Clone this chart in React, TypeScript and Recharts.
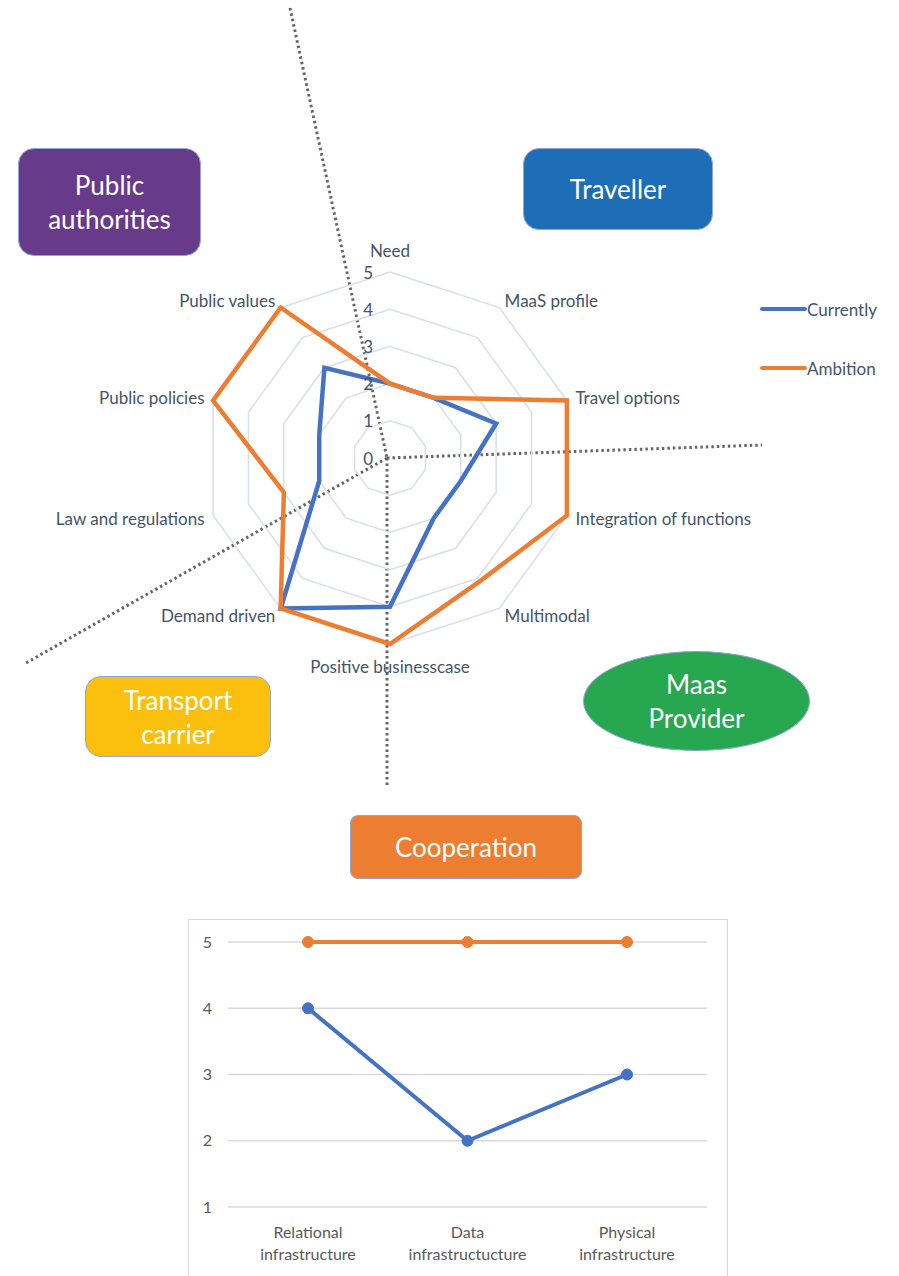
import {
  RadarChart, Radar, PolarGrid, PolarAngleAxis, PolarRadiusAxis,
  LineChart, Line, XAxis, YAxis, CartesianGrid,
} from 'recharts';

// radar: values, scale 0-5
const radarAxes = [
  'Need', 'MaaS profile', 'Travel options', 'Integration of functions', 'Multimodal',
  'Positive businesscase', 'Demand driven', 'Law and regulations', 'Public policies', 'Public values',
];
const radarCurrently = [2, 2, 3, 2, 2, 4, 5, 2, 2, 3];
const radarAmbition = [2, 2, 5, 5, 4.1, 5, 5, 3, 5, 5];
const radarTicks = [0, 1, 2, 3, 4, 5];

// cooperation line chart
const coopCategories = ['Relational infrastructure', 'Data infrastructucture', 'Physical infrastructure'];
const coopCurrently = [4, 2, 3];
const coopAmbition = [5, 5, 5];
const coopTicks = [1, 2, 3, 4, 5];

const BLUE = '#4472c4';
const ORANGE = '#ed7d31';
const LABEL = '#44546a';
const FONT = 'Lato, "Open Sans", sans-serif';

const CX = 390;
const CY = 458;
const R = 186;

const radarData = radarAxes.map((name, i) => ({
  name,
  currently: radarCurrently[i],
  ambition: radarAmbition[i],
}));

const coopData = coopCategories.map((name, i) => ({
  name,
  currently: coopCurrently[i],
  ambition: coopAmbition[i],
}));

function AngleTick(props: any) {
  const { x, y, payload } = props;
  const dx = x - CX;
  const dy = y - CY;
  const len = Math.sqrt(dx * dx + dy * dy) || 1;
  const ux = dx / len;
  const uy = dy / len;
  let r = 195;
  let anchor = 'middle';
  if (Math.abs(ux) < 0.1) {
    r = 208;
  } else {
    anchor = ux > 0 ? 'start' : 'end';
  }
  return (
    <text
      x={CX + ux * r}
      y={CY + uy * r}
      textAnchor={anchor}
      dominantBaseline="central"
      fill={LABEL}
      fontSize={17}
      fontFamily={FONT}
    >
      {payload.value}
    </text>
  );
}

function RadiusTick(props: any) {
  const { x, y, payload } = props;
  return (
    <text x={x - 17} y={y} textAnchor="end" dominantBaseline="central" fill={LABEL} fontSize={17} fontFamily={FONT}>
      {payload.value}
    </text>
  );
}

function CoopTick(props: any) {
  const { x, y, payload } = props;
  const words = String(payload.value).split(' ');
  return (
    <text x={x} y={y} textAnchor="middle" fill="#595959" fontSize={16} fontFamily={FONT}>
      <tspan x={x} dy={23}>{words[0]}</tspan>
      <tspan x={x} dy={22}>{words.slice(1).join(' ')}</tspan>
    </text>
  );
}

function Box({ left, top, width, height, color, lines, round = 16, ellipse = false }: any) {
  return (
    <div
      style={{
        position: 'absolute', left, top, width, height,
        background: color,
        borderRadius: ellipse ? '50%' : round,
        border: '1px solid #8fa6d6',
        boxSizing: 'border-box',
        display: 'flex', flexDirection: 'column', alignItems: 'center', justifyContent: 'center',
        color: '#fff', fontFamily: FONT, fontSize: 26, lineHeight: '34px',
      }}
    >
      {lines.map((l: string) => <div key={l}>{l}</div>)}
    </div>
  );
}

export default function App() {
  return (
    <div style={{ position: 'absolute', left: 0, top: 0, width: 899, height: 1276, background: '#fff', overflow: 'hidden' }}>
      {/* dotted quadrant lines */}
      <svg width={899} height={1276} style={{ position: 'absolute', left: 0, top: 0 }}>
        <g stroke="#666" strokeWidth={3} strokeDasharray="2.5 3" fill="none">
          <line x1={290} y1={8} x2={387} y2={458} />
          <line x1={387} y1={458} x2={762} y2={445} />
          <line x1={387} y1={458} x2={26} y2={663} />
          <line x1={387} y1={458} x2={387} y2={786} />
        </g>
      </svg>

      <div style={{ position: 'absolute', left: 0, top: 0 }}>
        <RadarChart width={899} height={800} data={radarData} cx={CX} cy={CY} outerRadius={R} startAngle={90} endAngle={-270}>
          <PolarGrid gridType="polygon" radialLines={false} stroke="#d9dee7" strokeWidth={1.5} />
          <PolarAngleAxis dataKey="name" tick={<AngleTick />} tickLine={false} axisLine={false} />
          <PolarRadiusAxis angle={90} domain={[0, 5]} ticks={radarTicks as any} tickCount={6} axisLine={false} tick={<RadiusTick />} />
          <Radar dataKey="currently" name="Currently" stroke={BLUE} strokeWidth={4.5} fill="none" fillOpacity={0} dot={false} isAnimationActive={false} />
          <Radar dataKey="ambition" name="Ambition" stroke={ORANGE} strokeWidth={4.5} fill="none" fillOpacity={0} dot={false} isAnimationActive={false} />
        </RadarChart>
      </div>

      {/* legend */}
      <svg width={140} height={90} style={{ position: 'absolute', left: 760, top: 290 }}>
        <line x1={2} y1={19} x2={45} y2={19} stroke={BLUE} strokeWidth={4} strokeLinecap="round" />
        <text x={47} y={19} dominantBaseline="central" fill={LABEL} fontSize={17} fontFamily={FONT}>Currently</text>
        <line x1={2} y1={78} x2={45} y2={78} stroke={ORANGE} strokeWidth={4} strokeLinecap="round" />
        <text x={47} y={78} dominantBaseline="central" fill={LABEL} fontSize={17} fontFamily={FONT}>Ambition</text>
      </svg>

      <Box left={18} top={148} width={183} height={108} color="#673a8a" lines={['Public', 'authorities']} />
      <Box left={523} top={148} width={190} height={82} color="#1d6db7" lines={['Traveller']} />
      <Box left={85} top={676} width={186} height={81} color="#fbbf0d" lines={['Transport', 'carrier']} />
      <Box left={583} top={651} width={227} height={100} color="#27a74f" lines={['Maas', 'Provider']} ellipse />
      <Box left={350} top={815} width={232} height={64} color={ORANGE} lines={['Cooperation']} round={8} />

      {/* cooperation chart */}
      <div style={{ position: 'absolute', left: 188, top: 919, width: 540, height: 380, border: '1px solid #d9d9d9', boxSizing: 'border-box' }} />
      <div style={{ position: 'absolute', left: 188, top: 919 }}>
        <LineChart width={540} height={357} data={coopData} margin={{ top: 23, right: 21, left: 0, bottom: 0 }}>
          <CartesianGrid vertical={false} stroke="#d9d9d9" strokeWidth={1.5} />
          <XAxis dataKey="name" height={69} axisLine={false} tickLine={false} padding={{ left: 80, right: 80 }} tick={<CoopTick />} interval={0} />
          <YAxis width={40} domain={[1, 5]} ticks={coopTicks} axisLine={false} tickLine={false} tickSize={0} tickMargin={16}
            tick={{ fill: '#595959', fontSize: 16, fontFamily: FONT }} />
          <Line dataKey="ambition" stroke={ORANGE} strokeWidth={4} dot={{ r: 5.5, fill: ORANGE, stroke: ORANGE, strokeWidth: 1 }} isAnimationActive={false} />
          <Line dataKey="currently" stroke={BLUE} strokeWidth={4} dot={{ r: 5.5, fill: BLUE, stroke: BLUE, strokeWidth: 1 }} isAnimationActive={false} />
        </LineChart>
      </div>
    </div>
  );
}
